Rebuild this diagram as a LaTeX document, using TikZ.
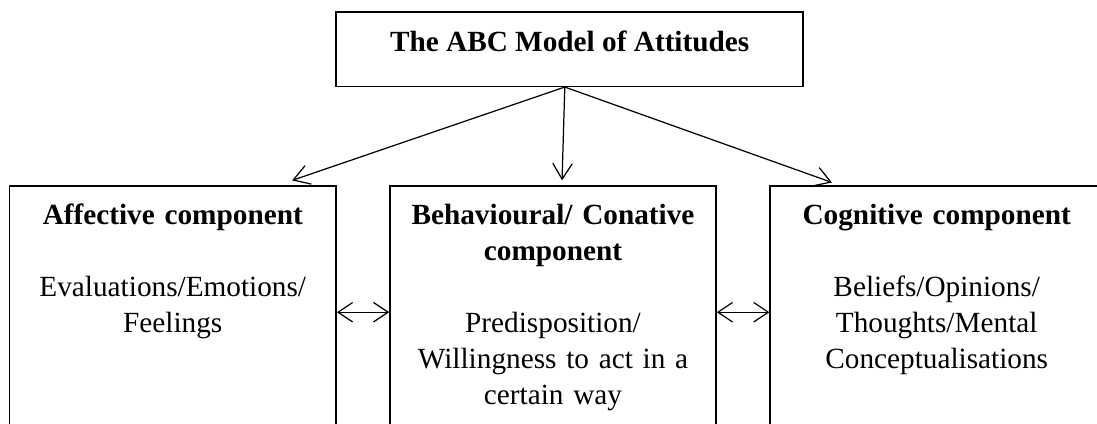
\documentclass[tikz,border=0pt]{standalone}
\usepackage{fontspec}
\setmainfont{Liberation Serif}
\usetikzlibrary{arrows.meta,positioning,calc}

\begin{document}
\begin{tikzpicture}[font=\fontsize{12}{14.8}\selectfont,
    panel/.style={draw,line width=0.6pt,anchor=north,minimum height=4cm,inner sep=0pt},
    paneltext/.style={align=center,text width=4.4cm,inner sep=0pt},
    link/.style={line width=0.5pt,-{Straight Barb[length=6.5pt,width=8pt]}},
    twoway/.style={line width=0.5pt,{Straight Barb[length=6pt,width=8pt]}-{Straight Barb[length=6pt,width=8pt]}}]
  \useasboundingbox (0,0) rectangle (15.81,6.10);
  \clip (0,0) rectangle (15.81,6.10);
  \node[draw,line width=0.6pt,minimum width=6.73cm,inner ysep=0pt,
    text height=16pt,text depth=14.4pt] (title) at (8.21,5.39)
    {\textbf{The ABC Model of Attitudes}};
  \node[panel,minimum width=4.71cm] (aff) at (2.49,3.43) {};
  \node[panel,minimum width=4.70cm] (beh) at (7.97,3.43) {};
  \node[panel,minimum width=4.80cm] (cog) at (13.50,3.43) {};
  \node[paneltext,below=0.26 of aff.north] (afftext)
    {\textbf{Affective component}\\[14.8pt]
     Evaluations/Emotions/\\Feelings};
  \node[paneltext,below=0.26 of beh.north] (behtext)
    {\textbf{Behavioural/ Conative}\\\textbf{component}\\[14.8pt]
     Predisposition/\\Willingness to act in a\\certain way};
  \node[paneltext,below=0.26 of cog.north] (cogtext)
    {\textbf{Cognitive component}\\[14.8pt]
     Beliefs/Opinions/\\Thoughts/Mental\\Conceptualisations};
  \coordinate (fork) at ($(title.south)+(-0.07,0)$);
  \coordinate (afftip) at (4.21,3.50);
  \coordinate (behtip) at (8.10,3.50);
  \coordinate (cogtip) at (11.99,3.47);
  \draw[link] (fork) -- (afftip);
  \draw[link] (fork) -- (behtip);
  \draw[link] (fork) -- (cogtip);
  \coordinate (row) at (0,1.60);
  \draw[twoway] (aff.east |- row) -- (beh.west |- row);
  \draw[twoway] (beh.east |- row) -- (cog.west |- row);
\end{tikzpicture}
\end{document}
